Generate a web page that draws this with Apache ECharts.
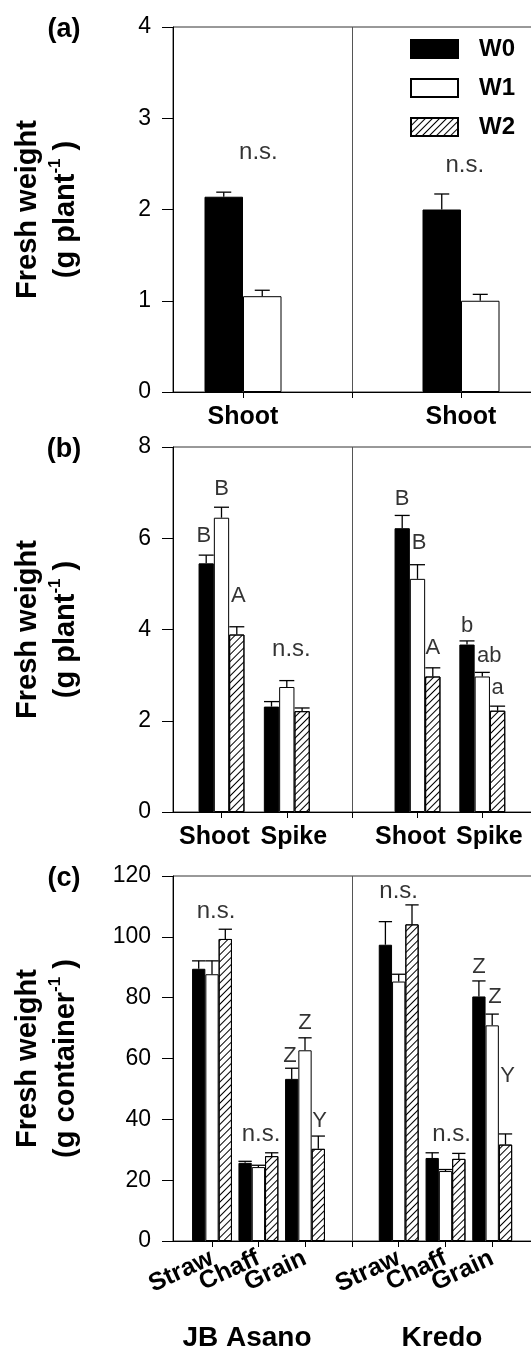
<!DOCTYPE html>
<html><head><meta charset="utf-8">
<script src="https://cdn.jsdelivr.net/npm/echarts@6/dist/echarts.min.js"></script>
<style>html,body{margin:0;padding:0;background:#fff}#c{width:531px;height:1353px}</style>
</head><body><div id="c"></div>
<script>
// ---------- DATA ----------
const groups = ['JB Asano', 'Kredo'];
const treatments = ['W0', 'W1', 'W2'];
const panelTags = ['(a)', '(b)', '(c)'];
const unitsY = ['plant', 'plant', 'container'];

const catsA = ['Shoot', 'Shoot'];
const catsB = ['Shoot', 'Spike', 'Shoot', 'Spike'];
const catsC = ['Straw', 'Chaff', 'Grain', 'Straw', 'Chaff', 'Grain'];

const ticksA = [0, 1, 2, 3, 4];
const ticksB = [0, 2, 4, 6, 8];
const ticksC = [0, 20, 40, 60, 80, 100, 120];

// panel (a): shoot fresh weight (g plant-1)
const a_W0 = [2.14, 2.00];   const a_W0_err = [0.05, 0.17];
const a_W1 = [1.05, 1.00];   const a_W1_err = [0.065, 0.07];
// panel (b): shoot / spike fresh weight (g plant-1)
const b_W0 = [5.45, 2.31, 6.22, 3.67]; const b_W0_err = [0.18, 0.11, 0.28, 0.08];
const b_W1 = [6.45, 2.74, 5.11, 2.97]; const b_W1_err = [0.23, 0.14, 0.31, 0.09];
const b_W2 = [3.89, 2.21, 2.97, 2.22]; const b_W2_err = [0.17, 0.07, 0.19, 0.10];
// panel (c): straw / chaff / grain fresh weight (g container-1)
const c_W0 = [89.5, 25.7, 53.3, 97.4, 27.3, 80.4];  const c_W0_err = [2.6, 0.5, 3.5, 7.6, 1.7, 5.1];
const c_W1 = [87.7, 24.3, 62.7, 85.3, 23.0, 70.9];  const c_W1_err = [4.4, 0.6, 4.1, 2.4, 0.5, 3.7];
const c_W2 = [99.3, 27.9, 30.3, 104.1, 27.0, 31.7]; const c_W2_err = [3.2, 1.1, 4.2, 6.4, 1.8, 3.5];

// significance letters: [category index, bar slot, y value, text]
const annA = [[0, 0.9, 2.63, 'n.s.'], [1, 0.6, 2.48, 'n.s.']];
const annB = [[0, -0.15, 6.05, 'B'], [0, 1, 7.08, 'B'], [0, 2.1, 4.73, 'A'], [1, 1.3, 3.57, 'n.s.'],
              [2, 0, 6.86, 'B'], [2, 1.1, 5.9, 'B'], [2, 2, 3.59, 'A'],
              [3, 0, 4.08, 'b'], [3, 1.45, 3.41, 'ab'], [3, 2, 2.71, 'a']];
const annC = [[0, 1.3, 108.3, 'n.s.'], [1, 1.2, 35.0, 'n.s.'], [2, -0.13, 60.9, 'Z'], [2, 1, 71.7, 'Z'], [2, 2.1, 39.6, 'Y'],
              [3, 1, 114.8, 'n.s.'], [4, 1.45, 35.0, 'n.s.'], [5, 0, 90.0, 'Z'], [5, 1.2, 80.4, 'Z'], [5, 2.15, 54.4, 'Y']];

// ---------- LAYOUT ----------
const FONT = 'Liberation Sans, Arial, Helvetica, sans-serif';
const GRID_LEFT = 173, GRID_W = 360, GRID_H = 365;
const GRID_TOPS = [27, 447, 876];
const X_SPAN = 360, DIVIDER = 179;
const catX = [[70, 288], [48.5, 113.8, 244.5, 309.3], [39, 85.4, 132, 225.7, 272.5, 319.2]];
const barW = [38.5, 15.3, 13.3];
const capW = [15, 15, 13.3];
const labelShift = [0, 14, 0];   // spreads neighbouring category labels apart (panel b)

const panels = [
  {cats: catsA, ticks: ticksA, names: ['W0', 'W1'], vals: [a_W0, a_W1], errs: [a_W0_err, a_W1_err], ann: annA},
  {cats: catsB, ticks: ticksB, names: ['W0', 'W1', 'W2'], vals: [b_W0, b_W1, b_W2], errs: [b_W0_err, b_W1_err, b_W2_err], ann: annB},
  {cats: catsC, ticks: ticksC, names: ['W0', 'W1', 'W2'], vals: [c_W0, c_W1, c_W2], errs: [c_W0_err, c_W1_err, c_W2_err], ann: annC}
];

const hatch = {symbol: 'rect', symbolSize: 1, dashArrayX: [1, 0], dashArrayY: [1, 3.2],
               rotation: -Math.PI / 4, color: '#000', backgroundColor: null};
const styles = {
  W0: {color: '#000', borderColor: '#000', borderWidth: 1},
  W1: {color: '#fff', borderColor: '#000', borderWidth: 1},
  W2: {color: '#fff', borderColor: '#000', borderWidth: 1, decal: hatch}
};

const grids = [], xAxes = [], yAxes = [], series = [];
panels.forEach((p, pi) => {
  const n = p.names.length;
  const ticks = p.ticks;
  grids.push({left: GRID_LEFT, top: GRID_TOPS[pi], width: GRID_W, height: GRID_H,
              outerBoundsMode: 'none', containLabel: false,
              show: true, borderColor: '#333', borderWidth: 1, backgroundColor: 'transparent'});
  const rotated = pi === 2;
  // empty guard labels at both ends so the real category labels are never dropped as "overlapping"
  const labelValues = [0].concat(catX[pi], [X_SPAN]);
  const lblBase = {fontFamily: FONT, fontWeight: 'bold', fontSize: 25, color: '#000'};
  xAxes.push({
    type: 'value', gridIndex: pi, min: 0, max: X_SPAN,
    splitLine: {show: false},
    axisLine: {show: true, onZero: false, lineStyle: {color: '#000', width: 1}},
    axisTick: {show: true, inside: false, length: 6, customValues: catX[pi].concat([DIVIDER]),
               lineStyle: {color: '#000', width: 1}},
    axisLabel: {
      show: true, customValues: labelValues, color: '#000', fontFamily: FONT, fontWeight: 'bold',
      showMinLabel: true, showMaxLabel: true, hideOverlap: false,
      fontSize: 25, margin: rotated ? 16 : 13, rotate: rotated ? 25 : 0,
      rich: {
        c: Object.assign({}, lblBase),
        l: Object.assign({padding: [0, labelShift[pi], 0, 0]}, lblBase),
        r: Object.assign({padding: [0, 0, 0, labelShift[pi]]}, lblBase)
      },
      formatter: v => {
        const i = catX[pi].findIndex(c => Math.abs(c - v) < 0.01);
        if (i < 0) return '';
        const tag = labelShift[pi] ? (i % 2 === 0 ? 'l' : 'r') : 'c';
        return '{' + tag + '|' + p.cats[i] + '}';
      }
    }
  });
  yAxes.push({
    type: 'value', gridIndex: pi, min: ticks[0], max: ticks[ticks.length - 1], interval: ticks[1] - ticks[0],
    splitLine: {show: false},
    axisLine: {show: true, lineStyle: {color: '#000', width: 1}},
    axisTick: {show: true, inside: false, length: 11, lineStyle: {color: '#000', width: 1}},
    axisLabel: {color: '#000', fontFamily: FONT, fontSize: 23, margin: 22, showMinLabel: true, showMaxLabel: true},
    name: '{t|Fresh weight}\n{t|(g ' + unitsY[pi] + '}{s|-1}{t| )}',
    nameLocation: 'middle', nameRotate: 90, nameGap: 88,
    nameTextStyle: {
      color: '#000', fontFamily: FONT, fontWeight: 'bold', fontSize: 29,
      rich: {
        t: {fontFamily: FONT, fontWeight: 'bold', fontSize: 29, lineHeight: 38, color: '#000'},
        s: {fontFamily: FONT, fontWeight: 'bold', fontSize: 17, lineHeight: 17, verticalAlign: 'top', color: '#000'}
      }
    }
  });
  // bars
  p.names.forEach((nm, k) => {
    series.push({
      type: 'bar', name: nm, xAxisIndex: pi, yAxisIndex: pi,
      barWidth: barW[pi], barGap: '0%',
      data: catX[pi].map((x, i) => [x, p.vals[k][i]]),
      itemStyle: styles[nm], z: 2, silent: true
    });
  });
  // error bars
  const errData = [];
  p.names.forEach((nm, k) => {
    catX[pi].forEach((x, i) => {
      errData.push([x + (k - (n - 1) / 2) * barW[pi], p.vals[k][i], p.errs[k][i]]);
    });
  });
  const half = capW[pi] / 2;
  series.push({
    type: 'custom', xAxisIndex: pi, yAxisIndex: pi, z: 3, silent: true,
    encode: {x: 0, y: 1},
    data: errData,
    renderItem: (params, api) => {
      const x = api.value(0), v = api.value(1), e = api.value(2);
      const p0 = api.coord([x, v]), p1 = api.coord([x, v + e]);
      const st = {stroke: '#000', lineWidth: 1.3};
      return {type: 'group', children: [
        {type: 'line', shape: {x1: p0[0], y1: p0[1], x2: p1[0], y2: p1[1]}, style: st},
        {type: 'line', shape: {x1: p1[0] - half, y1: p1[1], x2: p1[0] + half, y2: p1[1]}, style: st}
      ]};
    }
  });
  // significance letters + divider between cultivars
  series.push({
    type: 'scatter', xAxisIndex: pi, yAxisIndex: pi, symbolSize: 0, silent: true, z: 4,
    data: p.ann.map(a => ({
      value: [catX[pi][a[0]] + (a[1] - (n - 1) / 2) * barW[pi], a[2]],
      label: {show: true, position: 'inside', formatter: a[3], color: '#000', fontFamily: FONT,
              fontSize: a[3] === 'n.s.' ? 24 : 22}
    })),
    markLine: {silent: true, symbol: 'none', label: {show: false}, animation: false,
               lineStyle: {color: '#555', width: 1, type: 'solid'}, data: [{xAxis: DIVIDER}]}
  });
});

const titles = panelTags.map((t, i) => ({
  text: t, left: 64, top: GRID_TOPS[i] + 3, textAlign: 'center', textVerticalAlign: 'middle', padding: 0,
  textStyle: {color: '#000', fontFamily: FONT, fontWeight: 'bold', fontSize: 27}
}));
const groupX = [247, 442];
groups.forEach((g, i) => titles.push({
  text: g, left: groupX[i], top: 1338, textAlign: 'center', textVerticalAlign: 'middle', padding: 0,
  textStyle: {color: '#000', fontFamily: FONT, fontWeight: 'bold', fontSize: 28}
}));

const chart = echarts.init(document.getElementById('c'));
chart.setOption({
  animation: false,
  backgroundColor: '#fff',
  title: titles,
  legend: {
    data: treatments, orient: 'vertical', left: 410, top: 37, padding: 0,
    itemWidth: 47, itemHeight: 18, itemGap: 15, icon: 'rect',
    textStyle: {color: '#000', fontFamily: FONT, fontWeight: 'bold', fontSize: 24, lineHeight: 18, padding: [0, 0, 0, 16]}
  },
  grid: grids, xAxis: xAxes, yAxis: yAxes, series: series
});
</script></body></html>
